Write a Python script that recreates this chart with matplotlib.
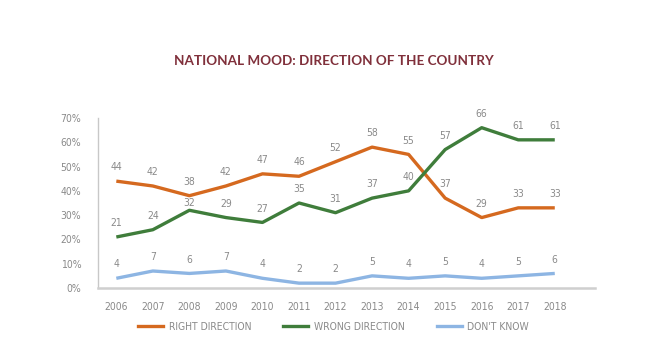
import matplotlib.pyplot as plt
from matplotlib.lines import Line2D

years = list(range(2006, 2019))
right_direction = [44, 42, 38, 42, 47, 46, 52, 58, 55, 37, 29, 33, 33]
wrong_direction = [21, 24, 32, 29, 27, 35, 31, 37, 40, 57, 66, 61, 61]
dont_know = [4, 7, 6, 7, 4, 2, 2, 5, 4, 5, 4, 5, 6]
series_names = ["RIGHT DIRECTION", "WRONG DIRECTION", "DON'T KNOW"]
colors = ["#D5691F", "#3F7D3B", "#8DB5E3"]
yticks = [0, 10, 20, 30, 40, 50, 60, 70]

plt.rcParams['font.family'] = ['DejaVu Sans']
plt.rcParams['font.stretch'] = 'condensed'
gray = "#8A8A8A"

fig = plt.figure(figsize=(6.67, 3.47), dpi=100)
ax = fig.add_axes([0.147, 0.170, 0.745, 0.49])

for i, (vals, color) in enumerate(zip([right_direction, wrong_direction, dont_know], colors)):
    ax.plot(years, vals, color=color, lw=2.4, solid_capstyle='butt')
    for x, v in zip(years, vals):
        # the green 2008 label sits lower in the original, under the orange line
        dy = 5 if (i == 1 and x == 2008) else 10
        ax.annotate(str(v), (x, v), xytext=(0, dy), textcoords='offset points',
                    ha='center', va='center', fontsize=7.5, color=gray)

ax.set_xlim(2005.5, 2019.1)
ax.set_ylim(0, 70)
ax.set_yticks(yticks)
ax.set_yticklabels([f"{t}%" for t in yticks])
ax.set_xticks(years)
ax.tick_params(axis='both', length=0, labelsize=7.5, labelcolor=gray)
ax.tick_params(axis='x', pad=10)
ax.tick_params(axis='y', pad=12)

for s in ['top', 'right']:
    ax.spines[s].set_visible(False)
ax.spines['left'].set_color('#C8C8C8')
ax.spines['left'].set_linewidth(1.0)
ax.spines['bottom'].set_color('#CFCFCF')
ax.spines['bottom'].set_linewidth(1.8)

fig.text(0.5, 0.825, "NATIONAL MOOD: DIRECTION OF THE COUNTRY", ha='center',
         va='center', fontsize=9.7, color="#80303B", fontweight='bold',
         family=['Lato', 'DejaVu Sans'], fontstretch='normal')

handles = [Line2D([0], [0], color=c, lw=2.4) for c in colors]
fig.legend(handles, series_names, loc='center', bbox_to_anchor=(0.5, 0.058),
           ncol=3, frameon=False, fontsize=7.5, labelcolor=gray,
           handlelength=2.4, handletextpad=0.5, columnspacing=3.1)

fig.savefig("out.png", dpi=100)
